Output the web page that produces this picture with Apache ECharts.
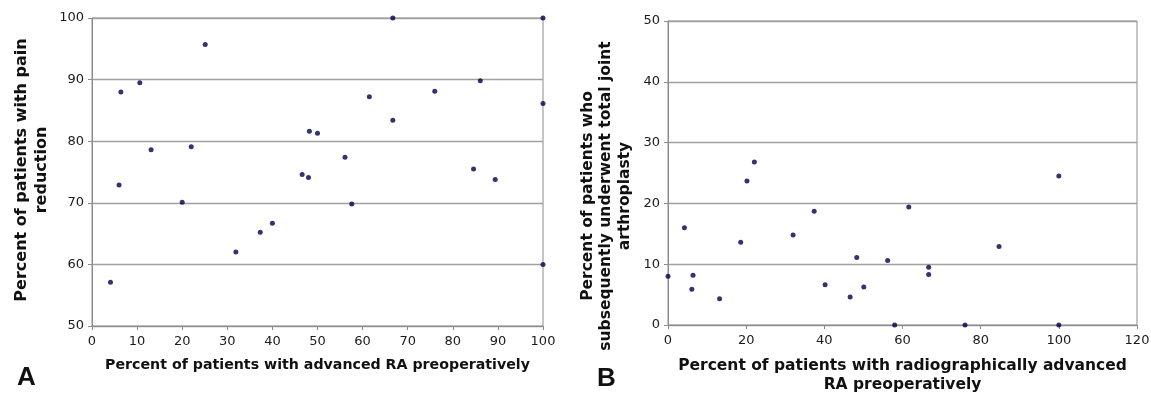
<!DOCTYPE html>
<html>
<head>
<meta charset="utf-8">
<script src="https://cdn.jsdelivr.net/npm/echarts@6/dist/echarts.min.js"></script>
<style>
html,body{margin:0;padding:0;background:#fff;}
#c{width:1151px;height:396px;}
</style>
</head>
<body>
<div id="c"></div>
<script>
// Panel A: percent advanced RA (x) vs percent with pain reduction (y)
var panelA_x = [4.1, 6.0, 6.4, 10.6, 13.1, 20.0, 22.0, 25.1, 31.9, 37.3, 40.0, 46.6, 48.0, 48.2, 50.0, 56.1, 57.6, 61.5, 66.7, 66.7, 76.0, 84.6, 86.1, 89.4, 100, 100, 100];
var panelA_y = [57.1, 72.9, 88.0, 89.5, 78.6, 70.1, 79.1, 95.7, 62.0, 65.2, 66.7, 74.6, 74.1, 81.6, 81.3, 77.4, 69.8, 87.2, 100, 83.4, 88.1, 75.5, 89.8, 73.8, 100, 86.1, 60.0];
// Panel B: percent radiographically advanced RA (x) vs percent later TJA (y)
var panelB_x = [0, 4.2, 6.1, 6.4, 13.2, 18.6, 20.2, 22.1, 32.0, 37.4, 40.2, 46.6, 48.3, 50.1, 56.2, 58.0, 61.6, 66.7, 66.7, 76.0, 84.7, 100, 100];
var panelB_y = [8.0, 16.0, 5.9, 8.2, 4.3, 13.6, 23.7, 26.8, 14.8, 18.7, 6.6, 4.6, 11.1, 6.25, 10.6, 0, 19.4, 9.5, 8.3, 0, 12.9, 0, 24.5];

var ticksA_x = {min: 0, max: 100, interval: 10};
var ticksA_y = {min: 50, max: 100, interval: 10};
var ticksB_x = {min: 0, max: 120, interval: 20};
var ticksB_y = {min: 0, max: 50, interval: 10};

var titleA_x = 'Percent of patients with advanced RA preoperatively';
var titleA_y = 'Percent of patients with pain\nreduction';
var titleB_x = 'Percent of patients with radiographically advanced\nRA preoperatively';
var titleB_y = 'Percent of patients who\nsubsequently underwent total joint\narthroplasty';

function zip(xs, ys) { return xs.map(function (v, i) { return [v, ys[i]]; }); }

var FONT = 'DejaVu Sans';
var axisColor = '#8c8c8c';
var gridColor = '#a0a0a0';

function xAx(idx, t, name, fs, gap, lh) {
  return {
    type: 'value', gridIndex: idx, min: t.min, max: t.max, interval: t.interval,
    name: name, nameLocation: 'middle', nameGap: gap,
    nameTextStyle: {fontFamily: FONT, fontWeight: 'bold', fontSize: fs, color: '#111', lineHeight: lh},
    axisLine: {show: true, lineStyle: {color: axisColor, width: 1}},
    axisTick: {show: true, length: 4, lineStyle: {color: axisColor}},
    axisLabel: {fontFamily: FONT, fontSize: 13, color: '#1a1a1a', margin: 9},
    splitLine: {show: false}
  };
}
function yAx(idx, t) {
  return {
    type: 'value', gridIndex: idx, min: t.min, max: t.max, interval: t.interval,
    axisLine: {show: true, lineStyle: {color: axisColor, width: 1}},
    axisTick: {show: true, length: 4, lineStyle: {color: axisColor}},
    axisLabel: {fontFamily: FONT, fontSize: 13, color: '#1a1a1a', margin: 8},
    splitLine: {show: true, lineStyle: {color: gridColor, width: 1.3}}
  };
}

var chart = echarts.init(document.getElementById('c'), null, {renderer: 'canvas'});
chart.setOption({
  animation: false,
  backgroundColor: '#fff',
  grid: [
    {left: 92, top: 18, width: 451, height: 308, show: true, borderColor: axisColor, borderWidth: 1, containLabel: false, outerBoundsMode: 'none'},
    {left: 668, top: 21, width: 469, height: 304, show: true, borderColor: axisColor, borderWidth: 1, containLabel: false, outerBoundsMode: 'none'}
  ],
  xAxis: [xAx(0, ticksA_x, titleA_x, 14.2, 30, 18), xAx(1, ticksB_x, titleB_x, 15.5, 31, 19)],
  yAxis: [yAx(0, ticksA_y), yAx(1, ticksB_y)],
  series: [
    {type: 'scatter', xAxisIndex: 0, yAxisIndex: 0, data: zip(panelA_x, panelA_y),
     symbolSize: 5, itemStyle: {color: '#00004a'}, clip: false},
    {type: 'scatter', xAxisIndex: 1, yAxisIndex: 1, data: zip(panelB_x, panelB_y),
     symbolSize: 5, itemStyle: {color: '#00004a'}, clip: false}
  ],
  graphic: [
    {type: 'text', x: 32, y: 170, rotation: Math.PI / 2,
     style: {text: titleA_y, font: 'bold 16px "DejaVu Sans"', fill: '#111', align: 'center', verticalAlign: 'middle', lineHeight: 20}},
    {type: 'text', x: 606, y: 196, rotation: Math.PI / 2,
     style: {text: titleB_y, font: 'bold 15.5px "DejaVu Sans"', fill: '#111', align: 'center', verticalAlign: 'middle', lineHeight: 18.5}},
    {type: 'text', x: 17, y: 378,
     style: {text: 'A', font: 'bold 26px "Liberation Sans"', fill: '#111', align: 'left', verticalAlign: 'middle'}},
    {type: 'text', x: 597, y: 379,
     style: {text: 'B', font: 'bold 26px "Liberation Sans"', fill: '#111', align: 'left', verticalAlign: 'middle'}}
  ]
});
</script>
</body>
</html>
